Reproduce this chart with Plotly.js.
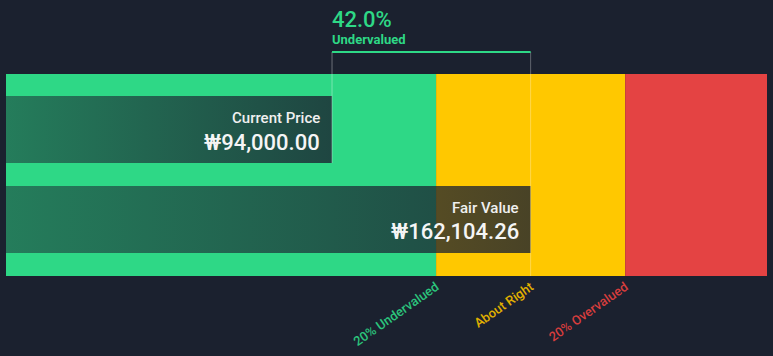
<!DOCTYPE html>
<html>
<head>
<meta charset="utf-8">
<script src="https://cdn.plot.ly/plotly-3.0.1.min.js"></script>
<style>
html,body{margin:0;padding:0;background:#1b212f;}
#chart{width:773px;height:356px;}
</style>
</head>
<body>
<div id="chart"></div>
<script>
// ---- data ----
const currentPrice = 94000.00;
const fairValue = 162104.26;
const currencySymbol = "₩";
const bandLabels = ["20% Undervalued", "About Right", "20% Overvalued"];
const bandFactors = [0.8, 1.0, 1.2];
const bandColors = ["#2ed886", "#ffc800", "#e44343"];
const labelColors = ["#2bc47c", "#e0b000", "#d63d3d"];
const priceLabels = ["Current Price", "Fair Value"];
const axisMin = -17800;
const axisMaxFactor = 1.5;

// ---- derived ----
const axisMax = fairValue * axisMaxFactor;
const lowEdge = fairValue * 0.8;
const highEdge = fairValue * 1.2;
const bandStarts = [axisMin, lowEdge, highEdge];
const bandEnds = [lowEdge, highEdge, axisMax];
const discount = (fairValue - currentPrice) / fairValue * 100;
const fmt = v => currencySymbol + v.toLocaleString('en-US', {minimumFractionDigits: 2, maximumFractionDigits: 2});

const bg = '#1b212f';
const font = 'Roboto, "Open Sans", sans-serif';

const bands = {
  type: 'bar', orientation: 'h',
  y: [0.5, 0.5, 0.5],
  base: bandStarts,
  x: bandEnds.map((e, i) => e - bandStarts[i]),
  width: [1, 1, 1],
  marker: {color: bandColors, line: {width: 0}},
  hoverinfo: 'skip', showlegend: false
};

function priceBar(value, yc, h) {
  const y0 = yc - h / 2, y1 = yc + h / 2;
  return {
    type: 'scatter', mode: 'lines',
    x: [axisMin, value, value, axisMin, axisMin],
    y: [y0, y0, y1, y1, y0],
    fill: 'toself',
    fillgradient: {type: 'horizontal', colorscale: [[0, 'rgba(27,33,48,0.5)'], [1, 'rgba(27,33,48,0.8)']]},
    line: {width: 0},
    hoverinfo: 'skip', showlegend: false
  };
}
const barH = 0.332;
const cpY = 0.725, fvY = 0.28;

const data = [bands, priceBar(currentPrice, cpY, barH), priceBar(fairValue, fvY, barH)];

const layout = {
  width: 773, height: 356,
  margin: {l: 6, r: 6, t: 74, b: 80, pad: 0},
  paper_bgcolor: bg, plot_bgcolor: bg,
  barmode: 'overlay',
  font: {family: font},
  xaxis: {
    range: [axisMin, axisMax], showgrid: false, zeroline: false, showline: false,
    tickmode: 'array', tickvals: bandFactors.map(f => f * fairValue),
    ticktext: bandLabels.map((t, i) => '<span style="color:' + labelColors[i] + '">' + t + '</span>'),
    tickangle: -35, ticks: '', ticklen: 0,
    tickfont: {size: 13, family: font, weight: 500, color: '#2bc47c'},
    fixedrange: true
  },
  yaxis: {range: [0, 1], showgrid: false, zeroline: false, showticklabels: false, showline: false, fixedrange: true},
  shapes: [
    {type: 'line', xref: 'x', yref: 'paper', x0: currentPrice, x1: currentPrice, y0: 1.109, y1: cpY - barH / 2,
     line: {color: 'rgba(255,255,255,0.35)', width: 1}},
    {type: 'line', xref: 'x', yref: 'paper', x0: fairValue, x1: fairValue, y0: 1.109, y1: 0,
     line: {color: 'rgba(255,255,255,0.3)', width: 1}},
    {type: 'line', xref: 'x', yref: 'paper', x0: currentPrice, x1: fairValue, y0: 1.109, y1: 1.109,
     line: {color: '#2ed886', width: 2}}
  ],
  annotations: [
    {xref: 'x', yref: 'paper', x: currentPrice, xshift: -2, y: 1.272, xanchor: 'left', yanchor: 'middle', showarrow: false,
     text: discount.toFixed(1) + '%', font: {size: 22, color: '#2ed886', family: font, weight: 500}},
    {xref: 'x', yref: 'paper', x: currentPrice, xshift: -2, y: 1.173, xanchor: 'left', yanchor: 'middle', showarrow: false,
     text: '<b>Undervalued</b>', font: {size: 13, color: '#2ed886', family: font}},
    {xref: 'x', yref: 'paper', x: currentPrice, xshift: -10, y: 0.782, xanchor: 'right', yanchor: 'middle', showarrow: false,
     text: priceLabels[0], font: {size: 15, color: '#f0f0f0', family: font, weight: 500}},
    {xref: 'x', yref: 'paper', x: currentPrice, xshift: -10, y: 0.663, xanchor: 'right', yanchor: 'middle', showarrow: false,
     text: fmt(currentPrice), font: {size: 22, color: '#f5f5f5', family: font, weight: 500}},
    {xref: 'x', yref: 'paper', x: fairValue, xshift: -10, y: 0.337, xanchor: 'right', yanchor: 'middle', showarrow: false,
     text: priceLabels[1], font: {size: 15, color: '#f0f0f0', family: font, weight: 500}},
    {xref: 'x', yref: 'paper', x: fairValue, xshift: -10, y: 0.218, xanchor: 'right', yanchor: 'middle', showarrow: false,
     text: fmt(fairValue), font: {size: 22, color: '#f5f5f5', family: font, weight: 500}}
  ]
};

Plotly.newPlot('chart', data, layout, {displayModeBar: false, staticPlot: true});
</script>
</body>
</html>
